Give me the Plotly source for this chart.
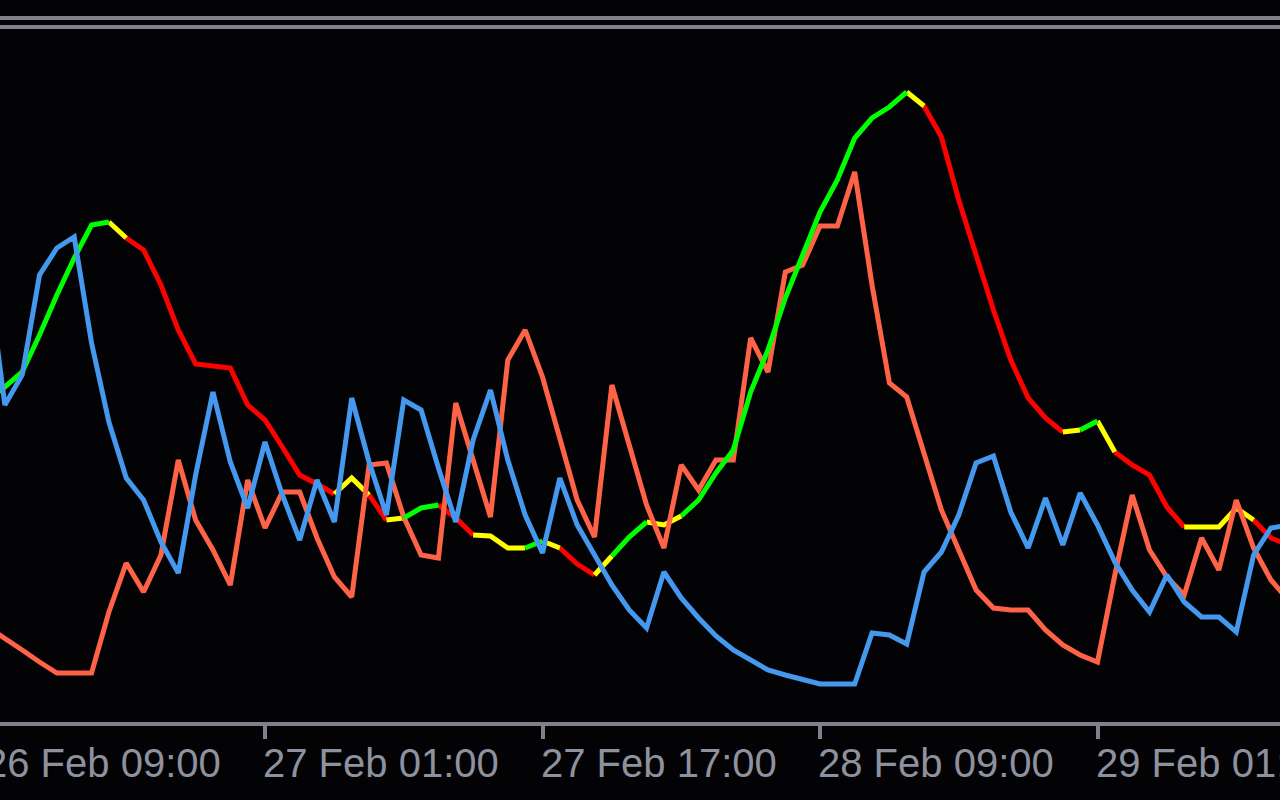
import pandas as pd
import plotly.graph_objects as go

# ---------------- data (hourly bars, values in indicator units) ----------------
start_time = "2024-02-26 09:00"
n_bars = 76
times = pd.date_range(start_time, periods=n_bars, freq="h")

# smoothed line, coloured by state: G = rising, Y = flat, R = falling
trend_line = [322, 335, 350, 387, 427, 464, 497, 500, 484, 472,
              437, 392, 358, 356, 354, 317, 302, 275, 247, 238,
              228, 244, 227, 202, 204, 214, 217, 204, 187, 186,
              174, 174, 181, 174, 158, 147, 166, 185, 200, 197,
              206, 222, 249, 272, 330, 372, 424, 467, 510, 542,
              584, 604, 615, 630, 616, 585, 522, 465, 412, 362,
              324, 304, 290, 292, 301, 270, 257, 247, 215, 195,
              195, 195, 214, 202, 184, 177]
trend_state = ("GGGGGGGY" "RRRRRRRRRRRR" "YYRYGGRRYYYGYRRYGGYY"
               "GGGGGGGGGGGGG" "Y" "RRRRRRRR" "YGY" "RRRR" "YYYY" "RR")

# tomato line
fast_line = [95, 84, 72, 60, 49, 49, 49, 110, 159, 130,
             167, 262, 202, 172, 137, 242, 194, 230, 230, 184,
             145, 125, 257, 259, 205, 167, 164, 319, 260, 205,
             362, 392, 345, 282, 222, 185, 337, 277, 217, 174,
             257, 232, 262, 262, 384, 350, 450, 457, 496, 496,
             550, 437, 339, 325, 267, 212, 172, 132, 114, 112,
             112, 92, 77, 67, 60, 147, 227, 172, 145, 127,
             184, 152, 222, 174, 142, 122]

# blue line
slow_line = [451, 317, 347, 447, 474, 485, 379, 300, 244, 222,
             180, 149, 247, 330, 260, 214, 280, 227, 182, 242,
             200, 324, 260, 207, 322, 312, 254, 200, 282, 332,
             262, 207, 169, 244, 197, 167, 137, 112, 94, 150,
             124, 104, 86, 72, 62, 52, 47, 43, 38, 38,
             38, 89, 87, 78, 150, 170, 207, 259, 266, 210,
             174, 224, 177, 229, 197, 160, 132, 110, 147, 120,
             105, 105, 90, 167, 194, 197]

tick_times = ["2024-02-26 09:00", "2024-02-27 01:00", "2024-02-27 17:00",
              "2024-02-28 09:00", "2024-02-29 01:00"]
tick_labels = ["26 Feb 09:00", "27 Feb 01:00", "27 Feb 17:00",
               "28 Feb 09:00", "29 Feb 01:00"]

# ---------------- styling ----------------
BG = "#030306"
GRID_GREY = "#80808a"
TEXT_GREY = "#8e919e"
STATE_COLORS = {"G": "#00ff00", "Y": "#ffff00", "R": "#ff0000"}
FAST_COLOR = "#ff6347"
SLOW_COLOR = "#4499ee"
LW = 5

# visible time window (chart scrolled so that 27 Feb 01:00 sits at x=265px of 1280)
W, H = 1280, 800
px_per_hour = 277.5 / 16.0
ref = pd.Timestamp("2024-02-27 01:00")
x0 = ref - pd.Timedelta(hours=265 / px_per_hour)
x1 = ref + pd.Timedelta(hours=(W - 265) / px_per_hour)

# split the coloured line into runs of equal state
runs = {c: ([], []) for c in "RYG"}
prev = None
for i, c in enumerate(trend_state):
    xs, ys = runs[c]
    if c != prev:
        if xs:
            xs.append(None)
            ys.append(None)
        xs.append(times[i])
        ys.append(trend_line[i])
    xs.append(times[i + 1])
    ys.append(trend_line[i + 1])
    prev = c

fig = go.Figure()


def add_state(c):
    xs, ys = runs[c]
    fig.add_trace(go.Scatter(x=xs, y=ys, mode="lines", connectgaps=False,
                             line=dict(color=STATE_COLORS[c], width=LW),
                             hoverinfo="skip", showlegend=False))


add_state("R")
add_state("Y")
fig.add_trace(go.Scatter(x=times, y=fast_line, mode="lines",
                         line=dict(color=FAST_COLOR, width=LW),
                         hoverinfo="skip", showlegend=False))
add_state("G")
fig.add_trace(go.Scatter(x=times, y=slow_line, mode="lines",
                         line=dict(color=SLOW_COLOR, width=LW),
                         hoverinfo="skip", showlegend=False))

# top frame lines
for yv in (704, 695):
    fig.add_shape(type="line", xref="paper", yref="y", x0=0, x1=1, y0=yv, y1=yv,
                  line=dict(color=GRID_GREY, width=4), layer="below")

# left-aligned time labels at the tick marks
span = (x1 - x0).total_seconds()
for t, lab in zip(tick_times, tick_labels):
    ts = pd.Timestamp(t)
    frac = (ts - x0).total_seconds() / span
    common = dict(text=lab, showarrow=False, xanchor="left", yanchor="middle",
                  yref="paper", y=-41 / 722, xshift=-4,
                  font=dict(family="Liberation Sans", size=40, color=TEXT_GREY))
    if 0 <= frac <= 1:
        fig.add_annotation(x=ts, xref="x", **common)
    else:
        fig.add_annotation(x=frac, xref="paper", **common)

fig.update_layout(
    width=W, height=H,
    margin=dict(l=0, r=0, t=0, b=H - 722),
    paper_bgcolor=BG, plot_bgcolor=BG,
    showlegend=False,
    xaxis=dict(type="date", range=[x0, x1], showgrid=False, zeroline=False,
               showline=True, linecolor=GRID_GREY, linewidth=4,
               ticks="outside", ticklen=13, tickwidth=4, tickcolor=GRID_GREY,
               tickvals=tick_times, showticklabels=False, fixedrange=True),
    yaxis=dict(range=[0, 722], visible=False, fixedrange=True),
)

fig.write_html("out.html", config={"displayModeBar": False},
               post_script="document.body.style.margin='0';")
